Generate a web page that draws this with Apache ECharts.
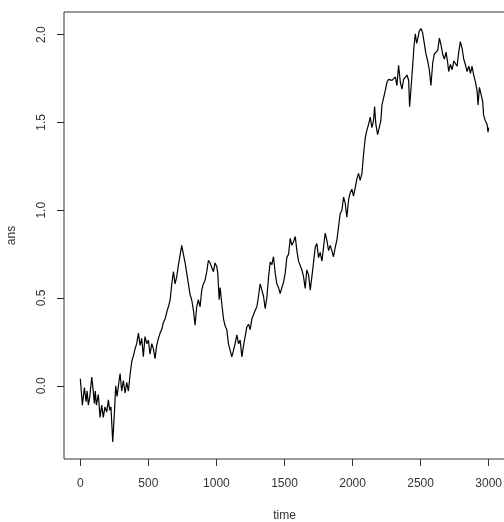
<!DOCTYPE html>
<html>
<head>
<meta charset="utf-8">
<script src="https://cdn.jsdelivr.net/npm/echarts@6/dist/echarts.min.js"></script>
<style>
    html, body { margin: 0; padding: 0; background: #fff; }
    #chart { width: 504px; height: 522px; }
</style>
</head>
<body>
<div id="chart"></div>
<script>
// time steps
let times = [
    0, 15, 30, 42, 50, 59, 70, 84, 95, 103, 110, 118, 132, 145, 157, 169, 181, 194, 206, 216,
    225, 238, 250, 260, 270, 280, 292, 304, 316, 329, 341, 353, 365, 378, 390, 402, 414, 427, 439, 451,
    463, 475, 488, 500, 512, 525, 537, 549, 561, 574, 586, 598, 610, 623, 635, 647, 660, 672, 684, 696,
    708, 721, 733, 745, 757, 770, 782, 794, 806, 818, 831, 843, 855, 867, 880, 892, 904, 916, 929, 941,
    953, 965, 978, 990, 1002, 1010, 1020, 1027, 1039, 1052, 1064, 1076, 1088, 1101, 1113, 1125, 1137, 1150, 1162, 1174,
    1187, 1199, 1211, 1223, 1236, 1248, 1260, 1272, 1285, 1297, 1309, 1321, 1334, 1346, 1358, 1370, 1383, 1395, 1407, 1419,
    1432, 1444, 1456, 1468, 1481, 1493, 1505, 1517, 1530, 1542, 1554, 1566, 1579, 1591, 1603, 1615, 1628, 1640, 1652, 1664,
    1677, 1689, 1701, 1713, 1726, 1738, 1750, 1762, 1775, 1787, 1799, 1811, 1824, 1836, 1848, 1860, 1873, 1885, 1897, 1909,
    1922, 1934, 1946, 1958, 1971, 1983, 1995, 2007, 2020, 2032, 2044, 2056, 2069, 2081, 2093, 2105, 2118, 2130, 2142, 2154,
    2162, 2171, 2184, 2196, 2208, 2216, 2228, 2240, 2253, 2265, 2277, 2290, 2302, 2314, 2326, 2338, 2351, 2363, 2375, 2387,
    2400, 2412, 2419, 2429, 2441, 2451, 2461, 2471, 2480, 2490, 2503, 2515, 2527, 2539, 2552, 2564, 2576, 2589, 2601, 2613,
    2626, 2638, 2650, 2662, 2675, 2687, 2699, 2706, 2719, 2732, 2744, 2756, 2768, 2780, 2792, 2805, 2817, 2829, 2841, 2854,
    2866, 2878, 2890, 2903, 2915, 2922, 2932, 2944, 2956, 2963, 2975, 2988, 2995, 3000
];

let ans = [
    0.04, -0.11, -0.01, -0.09, -0.03, -0.11, -0.06, 0.05, -0.03, -0.10, -0.03, -0.11, -0.05, -0.18, -0.11, -0.18, -0.12, -0.15, -0.08, -0.14,
    -0.12, -0.32, -0.16, 0.00, -0.06, 0.00, 0.07, -0.03, 0.03, -0.04, 0.02, -0.03, 0.06, 0.14, 0.17, 0.21, 0.24, 0.30, 0.23, 0.27,
    0.165, 0.28, 0.24, 0.26, 0.18, 0.24, 0.21, 0.155, 0.23, 0.27, 0.30, 0.32, 0.36, 0.38, 0.42, 0.45, 0.49, 0.58, 0.65, 0.58,
    0.62, 0.69, 0.70, 0.80, 0.75, 0.70, 0.64, 0.58, 0.52, 0.49, 0.43, 0.345, 0.45, 0.49, 0.45, 0.545, 0.58, 0.60, 0.65, 0.715,
    0.70, 0.71, 0.65, 0.70, 0.68, 0.64, 0.49, 0.56, 0.47, 0.38, 0.34, 0.32, 0.24, 0.20, 0.165, 0.20, 0.24, 0.29, 0.24, 0.26,
    0.165, 0.23, 0.28, 0.335, 0.35, 0.32, 0.38, 0.37, 0.43, 0.45, 0.51, 0.58, 0.57, 0.51, 0.44, 0.50, 0.62, 0.705, 0.69, 0.735,
    0.64, 0.58, 0.56, 0.525, 0.56, 0.59, 0.64, 0.73, 0.75, 0.84, 0.80, 0.82, 0.85, 0.77, 0.71, 0.70, 0.66, 0.62, 0.555, 0.66,
    0.63, 0.545, 0.62, 0.70, 0.79, 0.81, 0.73, 0.76, 0.71, 0.79, 0.87, 0.83, 0.77, 0.80, 0.77, 0.735, 0.79, 0.83, 0.905, 0.98,
    1.00, 1.075, 1.04, 0.96, 1.06, 1.10, 1.12, 1.08, 1.13, 1.18, 1.21, 1.17, 1.21, 1.32, 1.41, 1.455, 1.49, 1.53, 1.47, 1.51,
    1.59, 1.49, 1.43, 1.47, 1.51, 1.60, 1.64, 1.68, 1.73, 1.745, 1.75, 1.74, 1.73, 1.76, 1.71, 1.825, 1.73, 1.69, 1.745, 1.74,
    1.77, 1.74, 1.59, 1.69, 1.815, 1.93, 2.005, 1.95, 1.98, 2.02, 2.035, 2.01, 1.95, 1.89, 1.85, 1.80, 1.71, 1.84, 1.89, 1.88,
    1.91, 1.98, 1.94, 1.89, 1.86, 1.90, 1.84, 1.79, 1.83, 1.80, 1.85, 1.86, 1.82, 1.90, 1.96, 1.92, 1.86, 1.83, 1.79, 1.82,
    1.78, 1.82, 1.77, 1.73, 1.68, 1.60, 1.70, 1.66, 1.62, 1.54, 1.51, 1.49, 1.445, 1.47
];

let x_ticks = [0, 500, 1000, 1500, 2000, 2500, 3000];
let y_ticks = [0, 0.5, 1, 1.5, 2];

const FONT = 'Liberation Sans, Arial, sans-serif';
const TEXT_COLOR = '#333';

let chart = echarts.init(document.getElementById('chart'));

chart.setOption({
    animation: false,
    backgroundColor: '#fff',
    grid: {
        left: 64,
        top: 12,
        width: 441,
        height: 447,
        // keep the box where R put it, do not shrink it to fit the labels
        outerBoundsMode: 'none',
        containLabel: false,
        show: true,
        borderColor: '#333',
        borderWidth: 1
    },
    xAxis: {
        type: 'value',
        // R pads the range by 4% on each side
        min: -119.96,
        max: 3119.96,
        name: 'time',
        nameLocation: 'middle',
        nameGap: 51,
        nameTextStyle: {fontFamily: FONT, fontSize: 12, color: TEXT_COLOR},
        axisLine: {show: false, onZero: false},
        splitLine: {show: false},
        axisTick: {
            show: true,
            length: 7,
            customValues: x_ticks,
            lineStyle: {color: '#333'}
        },
        axisLabel: {
            customValues: x_ticks,
            margin: 19,
            fontFamily: FONT,
            fontSize: 12,
            color: TEXT_COLOR,
            formatter: function (v) { return String(v); }
        }
    },
    yAxis: {
        type: 'value',
        min: -0.417,
        max: 2.129,
        name: 'ans',
        nameLocation: 'middle',
        nameRotate: 90,
        nameGap: 46,
        nameTextStyle: {fontFamily: FONT, fontSize: 12, color: TEXT_COLOR},
        axisLine: {show: false, onZero: false},
        splitLine: {show: false},
        axisTick: {
            show: true,
            length: 7,
            customValues: y_ticks,
            lineStyle: {color: '#333'}
        },
        axisLabel: {
            customValues: y_ticks,
            rotate: 90,
            margin: 16,
            fontFamily: FONT,
            fontSize: 12,
            color: TEXT_COLOR,
            formatter: function (v) { return v.toFixed(1); }
        }
    },
    series: [{
        type: 'line',
        data: times.map(function (t, i) { return [t, ans[i]]; }),
        showSymbol: false,
        lineStyle: {color: '#000', width: 1.2}
    }]
});
</script>
</body>
</html>
